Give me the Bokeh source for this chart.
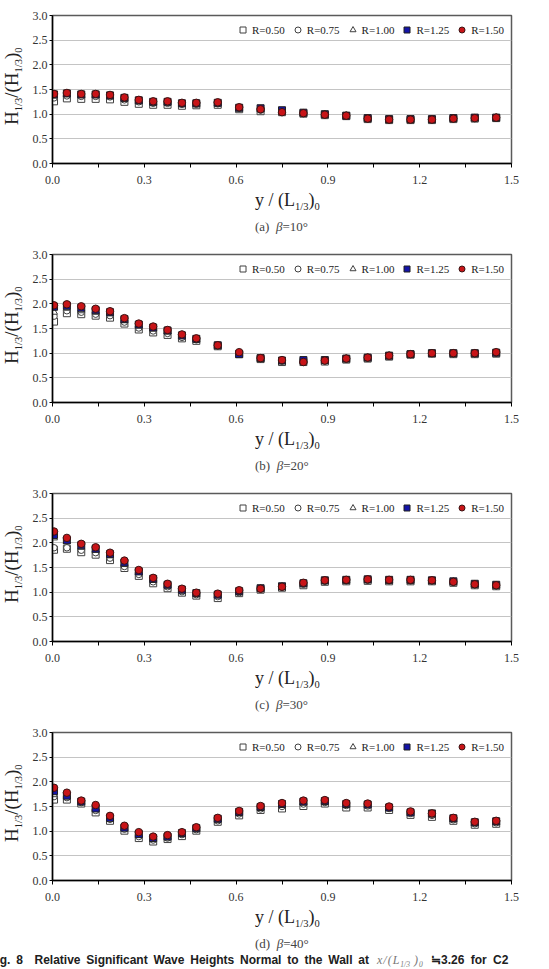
from bokeh.plotting import figure
from bokeh.layouts import column, row
from bokeh.models import (Range1d, FixedTicker, PrintfTickFormatter, Div,
                          Legend, LegendItem)
from bokeh.embed import file_html
from bokeh.resources import INLINE

# ---------------- data ----------------
x_pos = [0.005, 0.047, 0.094, 0.141, 0.188, 0.235, 0.282, 0.329, 0.376, 0.423,
         0.470, 0.540, 0.610, 0.680, 0.750, 0.820, 0.890, 0.960, 1.030, 1.100,
         1.170, 1.240, 1.310, 1.380, 1.450]

series_labels = ["R=0.50", "R=0.75", "R=1.00", "R=1.25", "R=1.50"]
x_ticks = [0.0, 0.3, 0.6, 0.9, 1.2, 1.5]
x_minor_ticks = [0.15, 0.45, 0.75, 1.05, 1.35]
y_ticks = [0.0, 0.5, 1.0, 1.5, 2.0, 2.5, 3.0]
panel_letters = ["(a)", "(b)", "(c)", "(d)"]
panel_angles = ["=10°", "=20°", "=30°", "=40°"]

# beta = 10 deg
b10_r050 = [1.26, 1.32, 1.31, 1.31, 1.30, 1.25, 1.21, 1.19, 1.19, 1.17, 1.18, 1.19, 1.10,
            1.06, 1.04, 1.01, 0.98, 0.96, 0.90, 0.88, 0.88, 0.88, 0.90, 0.91, 0.92]
b10_r075 = [1.33, 1.37, 1.36, 1.36, 1.35, 1.29, 1.25, 1.22, 1.22, 1.20, 1.20, 1.21, 1.12,
            1.08, 1.05, 1.02, 0.99, 0.96, 0.91, 0.89, 0.89, 0.89, 0.91, 0.92, 0.92]
b10_r100 = [1.37, 1.40, 1.38, 1.38, 1.37, 1.31, 1.27, 1.24, 1.24, 1.21, 1.21, 1.22, 1.13,
            1.09, 1.06, 1.02, 0.99, 0.97, 0.91, 0.89, 0.89, 0.89, 0.91, 0.92, 0.93]
b10_r125 = [1.40, 1.42, 1.40, 1.40, 1.38, 1.33, 1.28, 1.25, 1.25, 1.22, 1.22, 1.23, 1.13,
            1.12, 1.08, 1.03, 1.00, 0.97, 0.92, 0.90, 0.90, 0.90, 0.92, 0.93, 0.93]
b10_r150 = [1.41, 1.43, 1.41, 1.41, 1.39, 1.34, 1.29, 1.26, 1.26, 1.23, 1.23, 1.24, 1.14,
            1.10, 1.04, 1.02, 0.99, 0.97, 0.91, 0.89, 0.89, 0.89, 0.91, 0.92, 0.93]

# beta = 20 deg
b20_r050 = [1.64, 1.81, 1.79, 1.76, 1.72, 1.60, 1.48, 1.42, 1.37, 1.30, 1.25, 1.14, 0.98,
            0.88, 0.82, 0.82, 0.83, 0.87, 0.89, 0.93, 0.97, 0.99, 0.98, 0.98, 0.99]
b20_r075 = [1.75, 1.86, 1.83, 1.79, 1.76, 1.63, 1.51, 1.45, 1.40, 1.32, 1.27, 1.15, 0.99,
            0.89, 0.84, 0.83, 0.84, 0.88, 0.90, 0.94, 0.98, 1.00, 0.99, 0.99, 1.00]
b20_r100 = [1.83, 1.91, 1.86, 1.83, 1.80, 1.66, 1.55, 1.49, 1.43, 1.34, 1.28, 1.15, 1.00,
            0.89, 0.84, 0.84, 0.85, 0.89, 0.91, 0.95, 0.98, 1.00, 1.00, 1.00, 1.01]
b20_r125 = [1.94, 1.96, 1.92, 1.87, 1.83, 1.69, 1.58, 1.52, 1.46, 1.36, 1.29, 1.16, 0.98,
            0.90, 0.85, 0.86, 0.86, 0.89, 0.91, 0.95, 0.98, 1.00, 1.00, 1.00, 1.01]
b20_r150 = [1.97, 1.99, 1.95, 1.90, 1.85, 1.71, 1.60, 1.54, 1.47, 1.38, 1.30, 1.16, 1.02,
            0.90, 0.86, 0.82, 0.85, 0.89, 0.91, 0.95, 0.98, 1.00, 1.00, 1.00, 1.02]

# beta = 30 deg
b30_r050 = [1.86, 1.88, 1.81, 1.76, 1.65, 1.49, 1.33, 1.18, 1.08, 0.99, 0.93, 0.88, 0.98,
            1.05, 1.09, 1.14, 1.21, 1.22, 1.23, 1.22, 1.22, 1.22, 1.19, 1.14, 1.12]
b30_r075 = [1.90, 1.90, 1.85, 1.80, 1.69, 1.52, 1.36, 1.21, 1.11, 1.01, 0.95, 0.91, 0.99,
            1.06, 1.10, 1.16, 1.22, 1.23, 1.24, 1.23, 1.23, 1.23, 1.20, 1.15, 1.13]
b30_r100 = [2.10, 2.03, 1.91, 1.85, 1.74, 1.56, 1.40, 1.24, 1.13, 1.03, 0.96, 0.93, 1.01,
            1.07, 1.11, 1.17, 1.23, 1.24, 1.25, 1.24, 1.24, 1.23, 1.21, 1.16, 1.14]
b30_r125 = [2.16, 2.05, 1.95, 1.88, 1.77, 1.60, 1.42, 1.27, 1.15, 1.05, 0.98, 0.95, 1.02,
            1.08, 1.12, 1.18, 1.24, 1.25, 1.26, 1.25, 1.25, 1.24, 1.22, 1.17, 1.15]
b30_r150 = [2.23, 2.10, 1.98, 1.91, 1.80, 1.64, 1.45, 1.29, 1.17, 1.07, 0.99, 0.97, 1.04,
            1.07, 1.11, 1.19, 1.24, 1.25, 1.26, 1.25, 1.25, 1.24, 1.21, 1.16, 1.14]

# beta = 40 deg
b40_r050 = [1.64, 1.64, 1.56, 1.38, 1.21, 1.01, 0.86, 0.79, 0.84, 0.90, 1.01, 1.19, 1.32,
            1.43, 1.46, 1.51, 1.56, 1.48, 1.48, 1.43, 1.33, 1.29, 1.21, 1.13, 1.15]
b40_r075 = [1.70, 1.68, 1.58, 1.42, 1.24, 1.04, 0.89, 0.82, 0.86, 0.93, 1.03, 1.21, 1.35,
            1.45, 1.50, 1.55, 1.58, 1.52, 1.51, 1.46, 1.36, 1.32, 1.23, 1.15, 1.17]
b40_r100 = [1.74, 1.70, 1.60, 1.45, 1.26, 1.06, 0.92, 0.84, 0.88, 0.95, 1.05, 1.23, 1.37,
            1.47, 1.52, 1.57, 1.60, 1.54, 1.53, 1.47, 1.37, 1.33, 1.24, 1.16, 1.18]
b40_r125 = [1.81, 1.72, 1.60, 1.46, 1.27, 1.07, 0.94, 0.86, 0.89, 0.96, 1.06, 1.25, 1.39,
            1.49, 1.55, 1.60, 1.61, 1.55, 1.54, 1.48, 1.38, 1.36, 1.26, 1.18, 1.20]
b40_r150 = [1.88, 1.78, 1.62, 1.53, 1.31, 1.11, 0.98, 0.89, 0.92, 0.98, 1.08, 1.27, 1.41,
            1.51, 1.57, 1.62, 1.63, 1.57, 1.56, 1.50, 1.40, 1.36, 1.27, 1.19, 1.21]

panels = [
    [b10_r050, b10_r075, b10_r100, b10_r125, b10_r150],
    [b20_r050, b20_r075, b20_r100, b20_r125, b20_r150],
    [b30_r050, b30_r075, b30_r100, b30_r125, b30_r150],
    [b40_r050, b40_r075, b40_r100, b40_r125, b40_r150],
]

# ---------------- styles ----------------
SERIF = "Liberation Serif"
markers = ["square", "circle", "triangle", "square", "circle"]
fills = ["white", "white", "white", "#1414A8", "#C81418"]
edges = ["#404040", "#404040", "#404040", "#202020", "#3A1414"]
sizes = [7, 6.5, 7, 7, 7.5]

YT_W = 28          # width of the y-title strip
FIG_H = 191        # figure height (15 top + 148 frame + 28 bottom)

SUB = "font-size:10.5px;vertical-align:-4px;line-height:0;"


def box(w, h, inner):
    return (f'<div style="position:relative;width:{w}px;height:{h}px;'
            f'overflow:hidden;margin:0;padding:0;">{inner}</div>')


def ytitle_div():
    txt = (f'H<span style="{SUB}">1/3</span>/(H<span style="{SUB}">1/3</span>)'
           f'<span style="{SUB}">0</span>')
    inner = (f'<div style="position:absolute;left:2px;top:125px;'
             f'transform-origin:0 0;transform:rotate(-90deg);white-space:nowrap;'
             f"font-family:'{SERIF}';font-size:19px;line-height:19px;color:#222;\">"
             f'{txt}</div>')
    return Div(text=box(YT_W, FIG_H, inner), width=YT_W, height=FIG_H,
               margin=(0, 0, 0, 0))


def bottom_div(idx, h):
    xt = (f'y / (L<span style="{SUB}">1/3</span>)<span style="{SUB}">0</span>')
    inner = (f'<div style="position:absolute;left:255px;top:0px;white-space:nowrap;'
             f"font-family:'{SERIF}';font-size:18px;line-height:18px;color:#222;\">"
             f'{xt}</div>')
    cap = (f'{panel_letters[idx]}&nbsp;&nbsp;<i>β</i>{panel_angles[idx]}')
    inner += (f'<div style="position:absolute;left:255px;top:29px;white-space:nowrap;'
              f"font-family:'{SERIF}';font-size:13px;line-height:13px;color:#444;\">"
              f'{cap}</div>')
    if idx == 3:
        sans = ("font-family:'Liberation Sans';font-size:12px;line-height:12px;"
                "font-weight:bold;color:#202020;white-space:nowrap;")
        it = ("font-family:'Liberation Serif';font-style:italic;color:#777;"
              "font-size:12px;line-height:12px;white-space:nowrap;letter-spacing:1px;")
        small = "font-size:7.5px;vertical-align:-3px;line-height:0;letter-spacing:0;"
        inner += (f'<div style="position:absolute;left:-11px;top:46px;{sans}'
                  'word-spacing:2.5px;">'
                  'Fig. 8&nbsp; Relative Significant Wave Heights Normal to the '
                  'Wall at</div>')
        inner += (f'<div style="position:absolute;left:377px;top:46px;{it}">x/(L'
                  f'<span style="{small}">1/3</span>&nbsp;)'
                  f'<span style="{small}">0</span></div>')
        inner += (f'<div style="position:absolute;left:431px;top:46px;{sans}'
                  'word-spacing:3px;">≒3.26 for C2</div>')
    return Div(text=box(549, h, inner), width=549, height=h, margin=(0, 0, 0, 0))


def make_fig(idx):
    p = figure(width=549 - YT_W, height=FIG_H, output_backend="svg",
               toolbar_location=None,
               x_range=Range1d(0, 1.5), y_range=Range1d(0, 3.0),
               min_border_left=52 - YT_W, min_border_right=38,
               min_border_top=15, min_border_bottom=FIG_H - 15 - 148)
    p.background_fill_color = "white"
    p.border_fill_color = "white"
    p.outline_line_color = "#5a5a5a"
    p.outline_line_width = 1.5

    xa = p.xaxis[0]
    xa.ticker = FixedTicker(ticks=x_ticks, minor_ticks=x_minor_ticks)
    xa.formatter = PrintfTickFormatter(format="%.1f")
    xa.axis_line_color = "black"
    xa.axis_line_width = 1.5
    xa.major_tick_out = 4
    xa.major_tick_in = 0
    xa.minor_tick_out = 4
    xa.minor_tick_in = 0
    xa.major_tick_line_color = "black"
    xa.minor_tick_line_color = "black"
    xa.major_label_standoff = 8
    xa.major_label_text_font = SERIF
    xa.major_label_text_font_size = "12px"
    xa.major_label_text_color = "#333333"

    ya = p.yaxis[0]
    ya.ticker = FixedTicker(ticks=y_ticks, minor_ticks=[])
    ya.formatter = PrintfTickFormatter(format="%.1f")
    ya.axis_line_color = "black"
    ya.axis_line_width = 1.5
    ya.major_tick_out = 3
    ya.major_tick_in = 0
    ya.major_tick_line_color = "black"
    ya.major_label_standoff = 2
    ya.major_label_text_font = SERIF
    ya.major_label_text_font_size = "12px"
    ya.major_label_text_color = "#333333"

    p.xgrid.visible = False
    p.ygrid[0].ticker = FixedTicker(ticks=y_ticks)
    p.ygrid.grid_line_color = "#c4c4c4"
    p.ygrid.grid_line_width = 1.2

    items = []
    for k in range(5):
        r = p.scatter(x_pos, panels[idx][k], marker=markers[k], size=sizes[k],
                      fill_color=fills[k], line_color=edges[k], line_width=1)
        items.append(LegendItem(label=series_labels[k], renderers=[r]))

    leg = Legend(items=items, location="top_right", orientation="horizontal",
                 glyph_width=15, glyph_height=15, label_height=15,
                 label_standoff=2, spacing=5, padding=0, margin=7,
                 border_line_alpha=0, background_fill_alpha=0,
                 label_text_font=SERIF, label_text_font_size="11px",
                 label_text_color="#222222")
    p.add_layout(leg)
    return p


blocks = []
for i in range(4):
    bh = 48 if i < 3 else 61
    blocks.append(row(ytitle_div(), make_fig(i), spacing=0))
    blocks.append(bottom_div(i, bh))

layout = column(*blocks, spacing=0)
open("out.html", "w").write(file_html(layout, INLINE))
